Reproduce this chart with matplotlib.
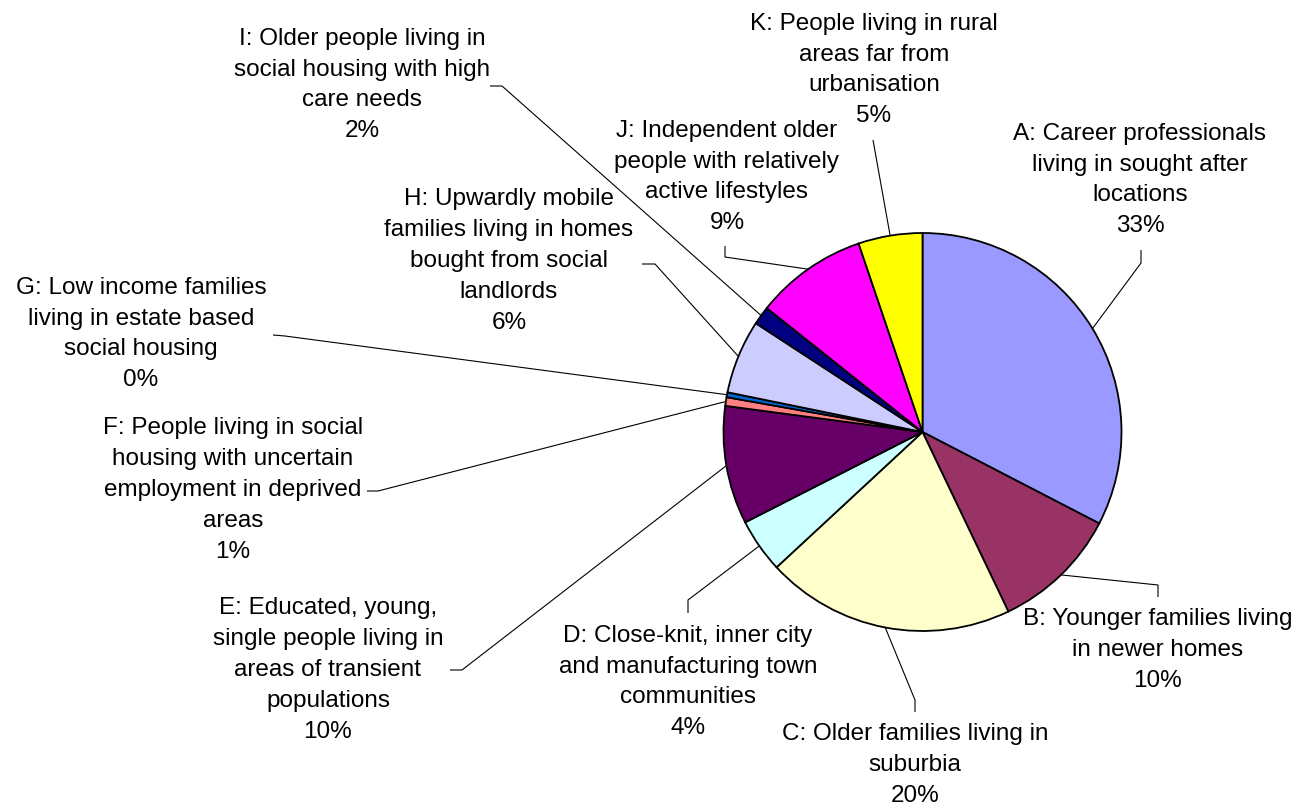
import matplotlib
matplotlib.use("Agg")
import matplotlib.pyplot as plt
import numpy as np

categories = [
    "A: Career professionals\nliving in sought after\nlocations",
    "B: Younger families living\nin newer homes",
    "C: Older families living in\nsuburbia",
    "D: Close-knit, inner city\nand manufacturing town\ncommunities",
    "E: Educated, young,\nsingle people living in\nareas of transient\npopulations",
    "F: People living in social\nhousing with uncertain\nemployment in deprived\nareas",
    "G: Low income families\nliving in estate based\nsocial housing",
    "H: Upwardly mobile\nfamilies living in homes\nbought from social\nlandlords",
    "I: Older people living in\nsocial housing with high\ncare needs",
    "J: Independent older\npeople with relatively\nactive lifestyles",
    "K: People living in rural\nareas far from\nurbanisation",
]
values = [32.6, 10.3, 20.2, 4.4, 9.6, 0.7, 0.4, 6.0, 1.5, 9.1, 5.2]
colors = ["#9999FF", "#993366", "#FFFFCC", "#CCFFFF", "#660066", "#FF8080",
          "#0066CC", "#CCCCFF", "#000080", "#FF00FF", "#FFFF00"]

W, H = 1299, 806
fig = plt.figure(figsize=(W / 100, H / 100), dpi=100)
ax = fig.add_axes([0, 0, 1, 1])

cx, cy, R = 922.5, H - 432, 199
wedges, _ = ax.pie(values, colors=colors, startangle=90, counterclock=False,
                   center=(cx, cy), radius=R, frame=True,
                   wedgeprops=dict(edgecolor="black", linewidth=1.3))
ax.set_xlim(0, W)
ax.set_ylim(0, H)
ax.set_aspect("equal")
ax.axis("off")

# label layout (pixel coords, y down): text block centre and leader path
text_pos = [(1140, 180), (1158, 650), (915, 765), (688, 682), (328, 670),
            (233, 490), (141, 334), (509, 261), (362, 85), (727, 177), (874, 70)]
leader = [
    [(1141, 263), (1141, 250)],
    [(1158, 585), (1158, 597)],
    [(915, 700), (915, 712)],
    [(688, 600), (688, 613)],
    [(462, 670), (450, 670)],
    [(378, 491), (367, 491)],
    [(285, 336), (273, 335)],
    [(655, 264), (642, 264)],
    [(502, 86), (490, 86)],
    [(725, 257), (725, 246)],
    [(873, 140)],
]

total = sum(values)
for w, lab, v, (tx, ty), pts in zip(wedges, categories, values, text_pos, leader):
    pct = v / total * 100
    ax.text(tx, H - ty, f"{lab}\n{pct:.0f}%", ha="center", va="center",
            multialignment="center", fontsize=17.5, family="Liberation Sans",
            linespacing=1.52, color="black")
    ang = np.deg2rad((w.theta1 + w.theta2) / 2)
    sx, sy = cx + R * np.cos(ang), cy + R * np.sin(ang)
    xs = [sx] + [p[0] for p in pts]
    ys = [sy] + [H - p[1] for p in pts]
    ax.plot(xs, ys, color="black", lw=0.8, solid_capstyle="butt")

fig.savefig("out.png", dpi=100)
